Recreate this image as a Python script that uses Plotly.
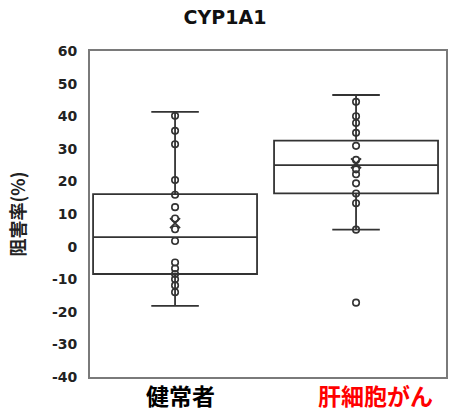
import plotly.graph_objects as go

# Inhibition rate (%) of CYP1A1 by group
categories = ["健常者", "肝細胞がん"]
label_colors = ["#000000", "#FF0000"]
label_shift = [5, 19]

# Box statistics per group
q1 = [-8.4, 16.3]
median = [2.9, 25.0]
q3 = [16.1, 32.5]
lower_fence = [-18.2, 5.2]
upper_fence = [41.3, 46.5]
mean = [7.2, 25.5]

# Individual measurements per group
healthy_values = [40.1, 35.5, 31.4, 20.4, 15.9, 12.1, 8.6, 5.3, 1.7,
                  -4.9, -6.7, -8.4, -10.0, -11.9, -14.0]
hcc_values = [44.4, 40.0, 37.9, 34.9, 30.9, 26.6, 23.7, 22.2, 19.4,
              16.3, 13.3, 5.2, -17.2]
group_values = [healthy_values, hcc_values]

y_ticks = [60, 50, 40, 30, 20, 10, 0, -10, -20, -30, -40]
y_tick_labels = [str(v) for v in y_ticks]

line_col = "#333333"
positions = list(range(len(categories)))

fig = go.Figure()

for i, pos in enumerate(positions):
    fig.add_trace(go.Box(
        x=[pos], q1=[q1[i]], median=[median[i]], q3=[q3[i]],
        lowerfence=[lower_fence[i]], upperfence=[upper_fence[i]],
        boxpoints=False, width=0.906, whiskerwidth=0.29,
        fillcolor="rgba(255,255,255,0)",
        line=dict(color=line_col, width=1.8),
        showlegend=False, hoverinfo="skip",
    ))

for i, pos in enumerate(positions):
    vals = group_values[i]
    fig.add_trace(go.Scatter(
        x=[pos] * len(vals), y=vals, mode="markers",
        marker=dict(symbol="circle-open", size=6.5, color=line_col,
                    line=dict(width=1.6, color=line_col)),
        showlegend=False,
    ))

fig.add_trace(go.Scatter(
    x=positions, y=mean, mode="markers",
    marker=dict(symbol="x-thin-open", size=10, color=line_col,
                line=dict(width=1.8, color=line_col)),
    showlegend=False,
))

# Category labels under the axis
for pos, name, col, dx in zip(positions, categories, label_colors, label_shift):
    fig.add_annotation(
        x=pos, xref="x", y=0, yref="paper", yanchor="top", yshift=0,
        xshift=dx, text=f"<b>{name}</b>", showarrow=False, borderpad=0,
        font=dict(family="Noto Sans CJK JP", size=23, color=col),
    )

fig.update_layout(
    width=450, height=411,
    margin=dict(l=90, r=4, t=51, b=34),
    paper_bgcolor="white", plot_bgcolor="white",
    title=dict(text="<b>CYP1A1</b>", x=0.5, xanchor="center",
               y=1 - 17 / 411, yanchor="middle",
               font=dict(family="DejaVu Sans", size=19, color="#111111")),
    xaxis=dict(
        range=[-0.47, 1.497], tickvals=positions, showticklabels=False,
        showgrid=False, zeroline=False, ticks="",
        showline=True, linecolor="#7a7a7a", linewidth=2, mirror=True,
        automargin=False,
    ),
    yaxis=dict(
        range=[-40, 60], tickvals=y_ticks, ticktext=y_tick_labels,
        tickfont=dict(family="DejaVu Sans", size=14, color="#222222",
                      weight="bold"),
        showgrid=False, zeroline=False, ticks="",
        showline=True, linecolor="#7a7a7a", linewidth=2, mirror=True,
        ticklabelstandoff=8, automargin=False,
        title=dict(text="阻害率(%)", standoff=22,
                   font=dict(family="Noto Sans CJK JP", size=18,
                             color="#222222", weight="bold")),
    ),
)

fig.write_html("out.html")
